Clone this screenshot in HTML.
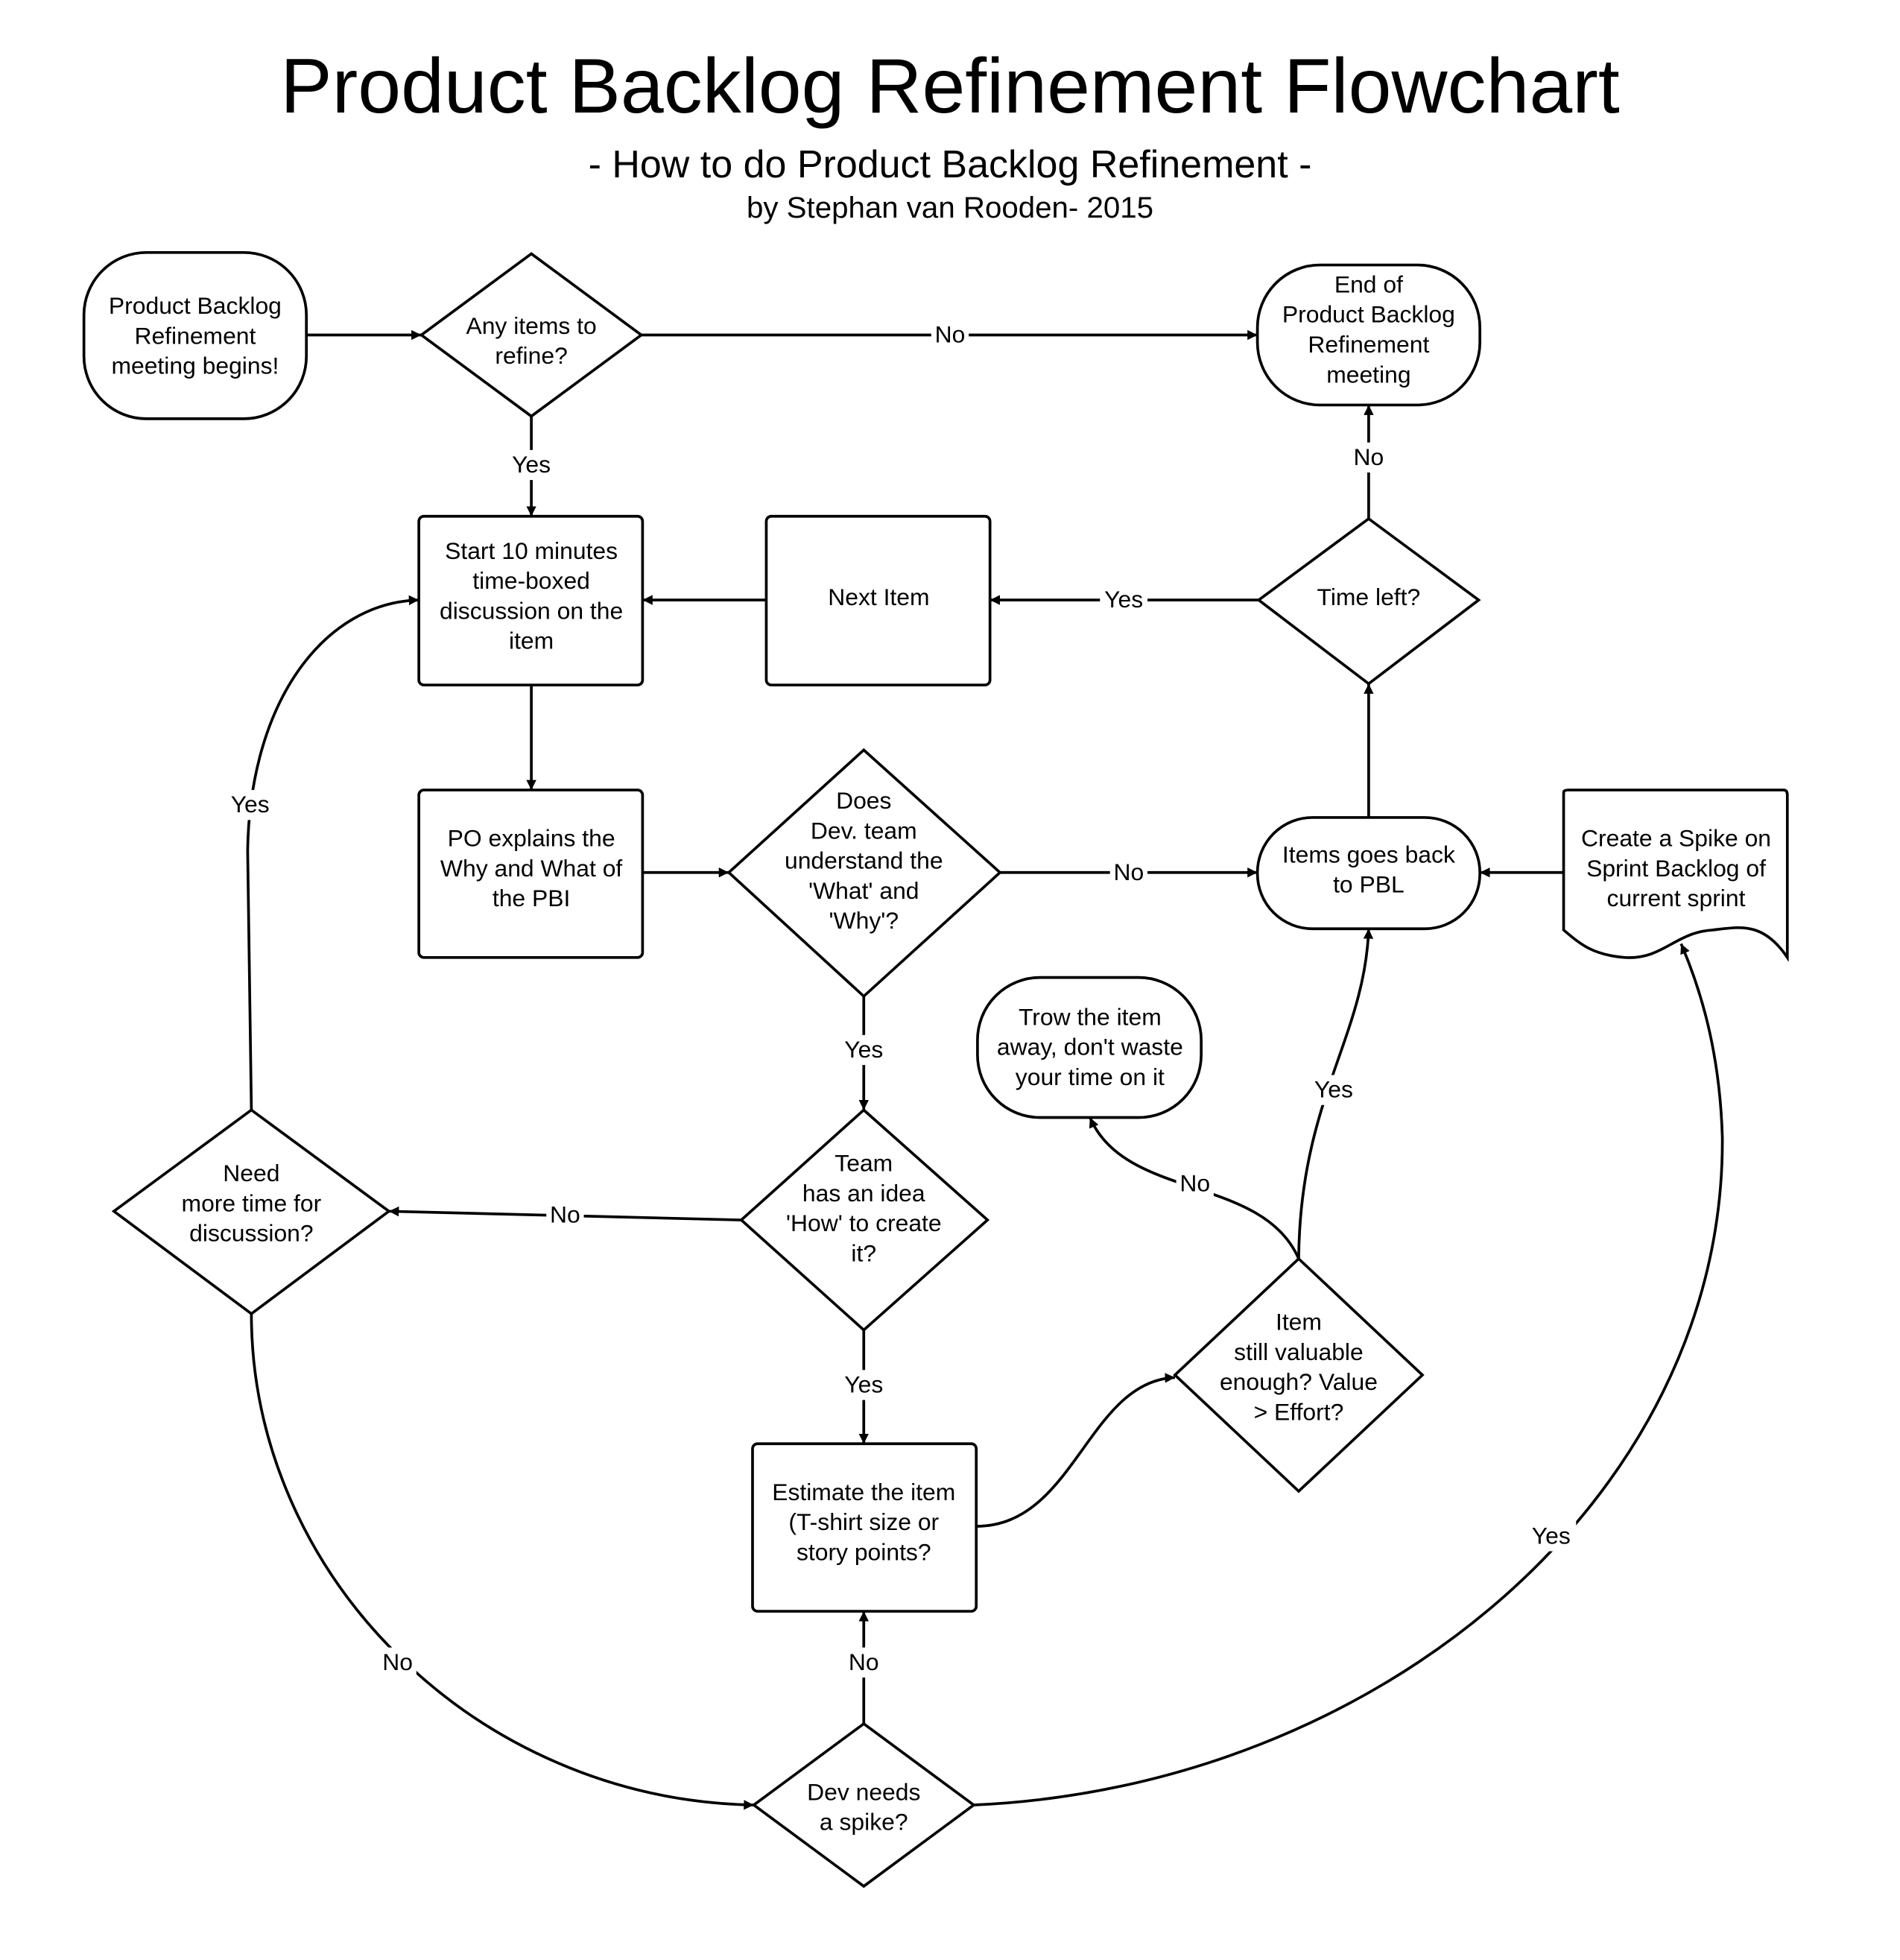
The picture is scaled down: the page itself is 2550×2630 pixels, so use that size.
<!DOCTYPE html>
<html><head><meta charset="utf-8"><style>
html,body{margin:0;padding:0;background:#fff;}
svg{display:block;}
text{font-family:"Liberation Sans",sans-serif;fill:#000;}
</style></head><body>
<svg width="2550" height="2630" viewBox="0 0 1520 1568" xmlns="http://www.w3.org/2000/svg">
<defs>
<marker id="a" viewBox="0 0 10 10" refX="10" refY="5" markerWidth="8" markerHeight="8" markerUnits="userSpaceOnUse" orient="auto">
<path d="M0,0 L10,5 L0,10 z" fill="#000"/>
</marker>
</defs>
<rect width="1520" height="1568" fill="#fff"/>
<text x="760" y="90" font-size="62" text-anchor="middle">Product Backlog Refinement Flowchart</text>
<text x="760" y="142" font-size="31" text-anchor="middle">- How to do Product Backlog Refinement -</text>
<text x="760" y="174" font-size="24" text-anchor="middle">by Stephan van Rooden- 2015</text>

<g fill="none" stroke="#000" stroke-width="2.2">
<!-- connectors -->
<path d="M245,268 L337,268" marker-end="url(#a)"/>
<path d="M513,268 L1006,268" marker-end="url(#a)"/>
<path d="M425,333 L425,413" marker-end="url(#a)"/>
<path d="M613,480 L514,480" marker-end="url(#a)"/>
<path d="M1007,480 L792,480" marker-end="url(#a)"/>
<path d="M1095,415 L1095,324" marker-end="url(#a)"/>
<path d="M425,548 L425,632" marker-end="url(#a)"/>
<path d="M514,698 L583,698" marker-end="url(#a)"/>
<path d="M800,698 L1006,698" marker-end="url(#a)"/>
<path d="M1095,654 L1095,547" marker-end="url(#a)"/>
<path d="M1251,698 L1184,698" marker-end="url(#a)"/>
<path d="M691,797 L691,888" marker-end="url(#a)"/>
<path d="M593,976 L311,969" marker-end="url(#a)"/>
<path d="M201,888 L198,680 C200,560 260,482 335,480" marker-end="url(#a)"/>
<path d="M201,1051 C201,1260 380,1440 603,1444" marker-end="url(#a)"/>
<path d="M691,1064 L691,1155" marker-end="url(#a)"/>
<path d="M781,1221 C860,1221 870,1105 940,1102" marker-end="url(#a)"/>
<path d="M1039,1007 C1040,880 1092,830 1095,743" marker-end="url(#a)"/>
<path d="M1039,1007 C1010,940 900,960 872,894" marker-end="url(#a)"/>
<path d="M691,1379 L691,1289" marker-end="url(#a)"/>
<path d="M779,1444 C1100,1430 1380,1200 1378,910 C1376,840 1360,790 1345,755" marker-end="url(#a)"/>

<!-- shapes -->
<rect x="67" y="202" width="178" height="133" rx="50" ry="50"/>
<path d="M425,203 L513,268 L425,333 L337,268 Z"/>
<rect x="1006" y="212" width="178" height="112" rx="50" ry="50"/>
<rect x="335" y="413" width="179" height="135" rx="4"/>
<rect x="613" y="413" width="179" height="135" rx="4"/>
<path d="M1095,415 L1183,480 L1095,547 L1007,480 Z"/>
<rect x="335" y="632" width="179" height="134" rx="4"/>
<path d="M691,600 L800,698 L691,797 L583,698 Z"/>
<rect x="1006" y="654" width="178" height="89" rx="44" ry="44"/>
<path d="M1251,634 Q1251,632 1255,632 L1427,632 Q1430,632 1430,636 L1430,766 C1410,736 1390,742 1370,744 C1340,746 1330,768 1300,766 C1275,764 1265,756 1251,744 Z"/>
<path d="M691,888 L790,976 L691,1064 L593,976 Z"/>
<path d="M201,888 L311,969 L201,1051 L91,969 Z"/>
<rect x="602" y="1155" width="179" height="134" rx="4"/>
<path d="M1039,1007 L1138,1100 L1039,1193 L940,1100 Z"/>
<rect x="782" y="782" width="179" height="112" rx="50" ry="50"/>
<path d="M691,1379 L779,1444 L691,1509 L603,1444 Z"/>
</g>

<!-- connector labels -->
<g font-size="19" text-anchor="middle">
<rect x="745" y="256" width="30" height="22" fill="#fff"/><text x="760" y="274">No</text>
<rect x="405" y="360" width="40" height="24" fill="#fff"/><text x="425" y="378">Yes</text>
<rect x="880" y="468" width="38" height="24" fill="#fff"/><text x="899" y="486">Yes</text>
<rect x="1080" y="354" width="30" height="24" fill="#fff"/><text x="1095" y="372">No</text>
<rect x="888" y="686" width="30" height="24" fill="#fff"/><text x="903" y="704">No</text>
<rect x="671" y="828" width="40" height="24" fill="#fff"/><text x="691" y="846">Yes</text>
<rect x="437" y="960" width="30" height="24" fill="#fff"/><text x="452" y="978">No</text>
<rect x="180" y="632" width="40" height="24" fill="#fff"/><text x="200" y="650">Yes</text>
<rect x="303" y="1318" width="30" height="24" fill="#fff"/><text x="318" y="1336">No</text>
<rect x="671" y="1096" width="40" height="24" fill="#fff"/><text x="691" y="1114">Yes</text>
<rect x="1047" y="860" width="40" height="24" fill="#fff"/><text x="1067" y="878">Yes</text>
<rect x="941" y="935" width="30" height="24" fill="#fff"/><text x="956" y="953">No</text>
<rect x="676" y="1318" width="30" height="24" fill="#fff"/><text x="691" y="1336">No</text>
<rect x="1221" y="1217" width="40" height="24" fill="#fff"/><text x="1241" y="1235">Yes</text>
</g>

<!-- node text -->
<g font-size="19" text-anchor="middle">
<text x="156" y="251">Product Backlog</text><text x="156" y="275">Refinement</text><text x="156" y="299">meeting begins!</text>
<text x="425" y="267">Any items to</text><text x="425" y="291">refine?</text>
<text x="1095" y="234">End of</text><text x="1095" y="258">Product Backlog</text><text x="1095" y="282">Refinement</text><text x="1095" y="306">meeting</text>
<text x="425" y="447">Start 10 minutes</text><text x="425" y="471">time-boxed</text><text x="425" y="495">discussion on the</text><text x="425" y="519">item</text>
<text x="703" y="484">Next Item</text>
<text x="1095" y="484">Time left?</text>
<text x="425" y="677">PO explains the</text><text x="425" y="701">Why and What of</text><text x="425" y="725">the PBI</text>
<text x="691" y="647">Does</text><text x="691" y="671">Dev. team</text><text x="691" y="695">understand the</text><text x="691" y="719">'What' and</text><text x="691" y="743">'Why'?</text>
<text x="1095" y="690">Items goes back</text><text x="1095" y="714">to PBL</text>
<text x="1341" y="677">Create a Spike on</text><text x="1341" y="701">Sprint Backlog of</text><text x="1341" y="725">current sprint</text>
<text x="872" y="820">Trow the item</text><text x="872" y="844">away, don't waste</text><text x="872" y="868">your time on it</text>
<text x="691" y="937">Team</text><text x="691" y="961">has an idea</text><text x="691" y="985">'How' to create</text><text x="691" y="1009">it?</text>
<text x="201" y="945">Need</text><text x="201" y="969">more time for</text><text x="201" y="993">discussion?</text>
<text x="1039" y="1064">Item</text><text x="1039" y="1088">still valuable</text><text x="1039" y="1112">enough? Value</text><text x="1039" y="1136">&gt; Effort?</text>
<text x="691" y="1200">Estimate the item</text><text x="691" y="1224">(T-shirt size or</text><text x="691" y="1248">story points?</text>
<text x="691" y="1440">Dev needs</text><text x="691" y="1464">a spike?</text>
</g>
</svg>
</body></html>
